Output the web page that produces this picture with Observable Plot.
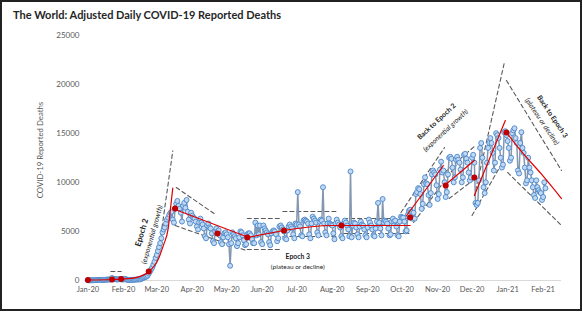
<!DOCTYPE html>
<html><head><meta charset="utf-8">
<script src="https://cdn.jsdelivr.net/npm/d3@7"></script>
<script src="https://cdn.jsdelivr.net/npm/@observablehq/plot@0.6"></script>
<style>
body{margin:0;background:#fff;}
#wrap{position:relative;width:583px;height:313px;overflow:hidden;font-family:Lato,"Open Sans",sans-serif;background:#fff;}
#border{position:absolute;left:0;top:0;width:582px;height:311px;border:2px solid #222;box-sizing:border-box;pointer-events:none;}
#title{position:absolute;left:13px;top:8px;font-weight:700;font-size:11px;color:#262626;white-space:nowrap;}
#ylab{position:absolute;left:-60px;top:143px;width:200px;text-align:center;font-size:7.8px;color:#595959;transform:rotate(-90deg);white-space:nowrap;line-height:14px;}
#chart{position:absolute;left:0;top:0;}
</style></head>
<body>
<div id="wrap">
  <div id="chart"></div>
  <div id="title">The World: Adjusted Daily COVID-19 Reported Deaths</div>
  <div id="ylab">COVID-19 Reported Deaths</div>
  <div id="border"></div>
</div>
<script>
// ---- data (daily adjusted deaths, starting 2020-01-22) ----
const startDate = "2020-01-22";
const jan20 = [20,10,20,20,30,30,30,40,50,50];
const feb20 = [50,60,60,70,70,70,90,90,100,110,100,250,120,140,140,110,100,140,120,120,110,100,160,150,70,50,40,60,60];
const mar20 = [60,70,80,100,100,110,110,130,200,260,300,350,400,500,700,900,1100,1300,1600,1900,2300,2600,3000,3400,3800,4300,4900,5200,5400,5800,6200];
const apr20 = [6400,6700,6900,7000,6200,5900,7300,7800,8100,7600,7300,6900,6000,7600,7900,7400,8200,7000,6200,5800,6900,6600,6400,6300,6000,5500,5200,5900,6300,5900];
const may20 = [5700,5300,4500,4300,5600,5800,5400,5300,4800,4000,3800,5000,5300,5000,5100,4600,3900,3700,4400,4800,4900,4700,4400,3700,1500,3800,4900,4700,4500,4300,3500];
const jun20 = [3800,4400,5000,4900,4600,4100,3600,3700,4700,4800,4800,4600,4200,3800,3800,5900,4600,5600,4700,5600,3900,3700,5600,5300,5100,4900,4700,3900,3600,4800];
const jul20 = [5000,5100,5000,4700,4000,4300,5500,5600,5400,5200,5000,4300,4200,5100,5500,5700,5500,5300,4700,4300,5800,5700,9000,5700,5500,4600,4500,6100,6200,6100,6000];
const aug20 = [5800,4700,4300,5800,6500,6300,6100,5900,4900,4600,6000,6200,6100,9500,5800,4900,4600,5800,6300,5800,5700,5600,4800,4200,5800,6200,5900,5700,5400,4500,4300];
const sep20 = [5800,6100,5900,5600,5200,4500,11100,4400,5600,5900,5800,5400,4700,4400,5500,6000,5700,5600,5200,4600,4400,5400,6200,5900,5600,5200,4600,4500,5300,6000];
const oct20 = [7900,5900,5300,4600,8300,5900,6100,6000,5800,5300,4600,4700,6000,6300,6000,6100,5500,4600,4500,6000,6500,6400,6400,6000,5000,5100,6700,7100,7200,7000,6300];
const nov20 = [6900,6300,8800,9000,9400,9300,8800,7300,7800,9800,10500,9900,9800,8700,7700,8900,10800,11200,11000,10800,9700,8300,8800,11300,12100,11000,11200,10000,8500,9000];
const dec20 = [10800,12500,12600,12400,11500,10000,10500,12300,12600,12300,12000,11300,10000,10500,12800,12900,12400,12000,11000,10200,10500,12500,12800,12000,7900,7700,7900,10200,13500,14000,12500];
const jan21 = [9500,8900,10000,12000,13500,14000,14500,14000,13000,11200,12000,15000,14800,14500,13500,12500,11500,11800,15100,15200,14800,14200,13500,12200,12500,15000,15300,15500,14500,14000,11200];
const feb21 = [10900,14000,15100,13500,13000,11500,9900,10200,12500,11500,11000,10200,9500,8700,8400,10200,9500,9200,9000,8900,8200,8500,10000,9400];

// epoch boundary markers (red dots)
const epochDates  = ["2020-01-22","2020-02-12","2020-02-20","2020-03-15","2020-04-07","2020-05-14","2020-06-09","2020-07-11","2020-08-30","2020-10-29","2020-11-29","2020-12-24","2021-01-21"];
const epochValues = [50,100,150,920,7330,4790,4380,5090,5600,6420,9670,10490,15070];

// fitted trend lines (red): [segment, date, value]
const trendRows = [
  ["r1","2020-01-22",50],["r1","2020-02-12",100],["r1","2020-02-20",150],["r1","2020-03-04",300],["r1","2020-03-11",600],["r1","2020-03-15",900],["r1","2020-03-20",1500],["r1","2020-03-24",2350],["r1","2020-03-28",3650],["r1","2020-04-01",5300],["r1","2020-04-03",7350],["r1","2020-04-05",9400],
  ["r2","2020-04-07",7230],["r2","2020-06-08",4480],
  ["r3","2020-06-09",4380],["r3","2020-07-11",5090],
  ["r4","2020-07-11",5090],["r4","2020-08-21",5600],["r4","2020-10-29",5600],
  ["r5","2020-10-26",6620],["r5","2020-11-27",11710],
  ["r6","2020-11-29",9780],["r6","2020-12-24",12220],
  ["r7","2020-12-24",8660],["r7","2021-01-20",16290],
  ["r8","2021-01-21",15070],["r8","2021-02-03",13140],["r8","2021-02-20",10900],["r8","2021-03-10",8350]
];

// envelope lines (dashed): [segment, date, value]
const envelopeRows = [
  ["d1","2020-02-11",920],["d1","2020-02-20",920],
  ["d2","2020-03-24",3260],["d2","2020-04-05",13200],
  ["d3","2020-04-08",9470],["d3","2020-05-11",6820],
  ["d4","2020-04-07",5600],["d4","2020-06-08",3050],
  ["d5u","2020-06-09",6310],["d5u","2020-07-07",6310],
  ["d5l","2020-06-09",3160],["d5l","2020-07-07",3160],
  ["d6u","2020-07-10",7030],["d6u","2020-08-27",7030],
  ["d6l","2020-07-10",4480],["d6l","2020-08-27",4480],
  ["d7u","2020-09-01",6310],["d7u","2020-10-28",6310],
  ["d7l","2020-09-01",4790],["d7l","2020-10-28",4790],
  ["eu","2020-10-21",6920],["eu","2020-11-28",13540],
  ["el","2020-11-01",5910],["el","2020-12-08",11710],
  ["fu","2020-11-28",11000],["fu","2020-12-25",13750],
  ["fl","2020-12-02",8350],["fl","2020-12-25",10390],
  ["gul","2020-12-25",9160],["gul","2021-01-19",22100],
  ["gur","2021-01-21",20370],["gur","2021-03-10",11200],
  ["gll","2020-12-22",6620],["gll","2021-01-16",11710],
  ["glr","2021-01-22",11000],["glr","2021-03-10",5600]
];

// annotations
const noteText  = ["Epoch 2","(exponential growth)","Epoch 3","(plateau or decline)","Back to Epoch 2","(exponential growth)","Back to Epoch 3","(plateau or decline)"];
const noteDate  = ["2020-03-09","2020-03-18","2020-07-23","2020-07-23","2020-11-21","2020-11-29","2021-03-02","2021-02-21"];
const noteValue = [4890,4680,2440,1430,16190,15275,16700,16190];

// axes
const xTickLabels = ["Jan-20","Feb-20","Mar-20","Apr-20","May-20","Jun-20","Jul-20","Aug-20","Sep-20","Oct-20","Nov-20","Dec-20","Jan-21","Feb-21"];
const yTicks = [0,5000,10000,15000,20000,25000];

// ---- build ----
const t0 = new Date(startDate);
const daily = [jan20,feb20,mar20,apr20,may20,jun20,jul20,aug20,sep20,oct20,nov20,dec20,jan21,feb21].flat()
  .map((v,i) => ({date: d3.utcDay.offset(t0, i), value: v}));
const epochs = epochDates.map((d,i) => ({date: new Date(d), value: epochValues[i]}));
const toRow = ([id,d,v]) => ({id, date: new Date(d), value: v});
const trends = trendRows.map(toRow);
const envelopes = envelopeRows.map(toRow);
const notes = noteText.map((t,i) => ({text: t, date: new Date(noteDate[i]), value: noteValue[i]}));
const parseTick = d3.utcParse("%b-%y");
const tickDates = xTickLabels.map(s => d3.utcDay.offset(parseTick(s), 21));
const tickLabelOf = new Map(tickDates.map((d,i) => [+d, xTickLabels[i]]));

const note = (i, rotate, opts) => Plot.text([notes[i]], {x:"date", y:"value", text:"text", rotate, ...opts});

const chart = Plot.plot({
  width: 583, height: 313,
  marginLeft: 84, marginRight: 22, marginTop: 34.5, marginBottom: 33,
  style: {fontFamily: "Lato, 'Open Sans', sans-serif", background: "transparent", overflow: "visible"},
  x: {type: "utc", domain: [new Date("2020-01-19"), new Date("2021-03-10")]},
  y: {domain: [0, 25000]},
  marks: [
    Plot.ruleY([0], {stroke: "#d9d9d9", strokeWidth: 1}),
    Plot.axisY({ticks: yTicks, tickSize: 0, tickPadding: 5, tickFormat: d => String(d), fontSize: 8, fill: "#595959", label: null}),
    Plot.axisX({ticks: tickDates, tickSize: 0, tickPadding: 6, tickFormat: d => tickLabelOf.get(+d), fontSize: 7.5, fill: "#595959", label: null}),
    Plot.line(envelopes, {x: "date", y: "value", z: "id", stroke: "#595959", strokeWidth: 1.1, strokeDasharray: "4,3"}),
    Plot.line(daily, {x: "date", y: "value", stroke: "#8497b0", strokeWidth: 1.5}),
    Plot.dot(daily, {x: "date", y: "value", r: 2.5, fill: "#c0d8f2", stroke: "#4a86c8", strokeWidth: 0.9}),
    Plot.line(trends, {x: "date", y: "value", z: "id", stroke: "#e00000", strokeWidth: 1.2, curve: "monotone-x"}),
    Plot.dot(epochs, {x: "date", y: "value", r: 3, fill: "#c00000"}),
    note(0, -74, {fontSize: 8, fontWeight: 700, fill: "#1a1a1a"}),
    note(1, -74, {fontSize: 7.2, fontStyle: "italic", fill: "#262626"}),
    note(2, 0, {fontSize: 6.8, fontWeight: 700, fill: "#1a1a1a"}),
    note(3, 0, {fontSize: 6.5, fill: "#262626"}),
    note(4, -43, {fontSize: 6.9, fontWeight: 700, fill: "#1a1a1a"}),
    note(5, -43, {fontSize: 6.9, fontStyle: "italic", fill: "#262626"}),
    note(6, 56, {fontSize: 6.9, fontWeight: 700, fill: "#1a1a1a"}),
    note(7, 56, {fontSize: 7, fontStyle: "italic", fill: "#262626"})
  ]
});
document.getElementById("chart").appendChild(chart);
</script>
</body></html>
